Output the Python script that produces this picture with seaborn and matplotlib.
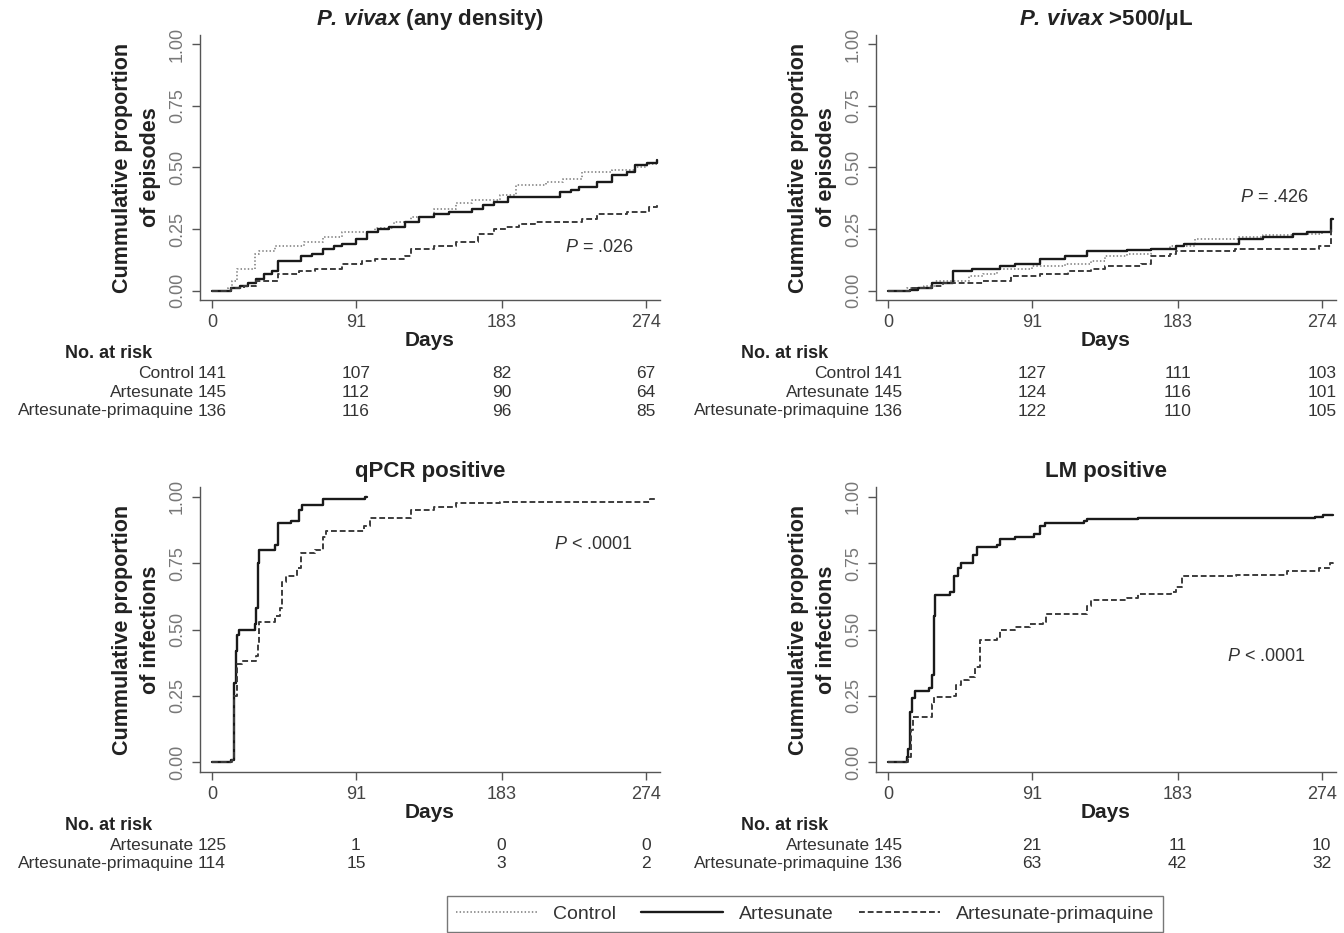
import matplotlib
matplotlib.use("Agg")
import matplotlib.pyplot as plt
import matplotlib.transforms as mtransforms
from matplotlib.lines import Line2D
import seaborn as sns

# ---------------- data ----------------
groups = ["Control", "Artesunate", "Artesunate-primaquine"]
xticks_days = [0, 91, 183, 274]
yticks_vals = [0.0, 0.25, 0.50, 0.75, 1.0]
ytick_labels = ["0.00", "0.25", "0.50", "0.75", "1.00"]

titles = [r"$\mathbfit{P.\,vivax}$ (any density)",
          r"$\mathbfit{P.\,vivax}$ >500/μL",
          "qPCR positive",
          "LM positive"]
ylabels = ["Cummulative proportion\nof episodes",
           "Cummulative proportion\nof episodes",
           "Cummulative proportion\nof infections",
           "Cummulative proportion\nof infections"]
pvalues = [r"$\mathit{P}$ = .026", r"$\mathit{P}$ = .426",
           r"$\mathit{P}$ < .0001", r"$\mathit{P}$ < .0001"]

# Panel 1: P. vivax any density
tl_control_days = [0, 10, 13, 16, 27, 30, 40, 58, 70, 82, 103, 115, 126, 140, 154, 164, 182, 192, 211, 222, 234, 253, 267, 275, 281]
tl_control_vals = [0, 0.01, 0.04, 0.09, 0.15, 0.16, 0.18, 0.20, 0.22, 0.24, 0.255, 0.28, 0.30, 0.33, 0.355, 0.37, 0.39, 0.43, 0.44, 0.455, 0.48, 0.49, 0.50, 0.515, 0.52]
tl_art_days = [0, 12, 18, 23, 28, 33, 38, 42, 56, 63, 70, 77, 82, 91, 98, 105, 112, 122, 131, 140, 150, 164, 171, 178, 187, 220, 227, 232, 243, 253, 262, 267, 275, 281]
tl_art_vals = [0, 0.01, 0.02, 0.03, 0.05, 0.07, 0.08, 0.12, 0.14, 0.15, 0.17, 0.18, 0.19, 0.21, 0.24, 0.25, 0.26, 0.28, 0.30, 0.31, 0.32, 0.33, 0.35, 0.36, 0.38, 0.40, 0.41, 0.42, 0.44, 0.47, 0.48, 0.51, 0.52, 0.53]
tl_ap_days = [0, 12, 20, 28, 42, 55, 65, 82, 95, 103, 122, 126, 140, 154, 168, 178, 186, 194, 204, 234, 243, 262, 276, 281]
tl_ap_vals = [0, 0.01, 0.02, 0.04, 0.07, 0.08, 0.09, 0.11, 0.12, 0.13, 0.14, 0.17, 0.18, 0.20, 0.23, 0.25, 0.26, 0.27, 0.28, 0.29, 0.31, 0.32, 0.34, 0.35]

# Panel 2: P. vivax >500/uL
tr_control_days = [0, 12, 23, 30, 51, 60, 69, 91, 112, 128, 137, 151, 166, 178, 194, 222, 237, 256, 274, 280]
tr_control_vals = [0, 0.01, 0.02, 0.04, 0.06, 0.07, 0.09, 0.10, 0.11, 0.12, 0.14, 0.15, 0.17, 0.18, 0.21, 0.22, 0.225, 0.23, 0.24, 0.25]
tr_art_days = [0, 14, 19, 28, 41, 53, 71, 80, 96, 112, 126, 151, 166, 182, 187, 222, 237, 256, 265, 280, 281]
tr_art_vals = [0, 0.005, 0.01, 0.03, 0.08, 0.09, 0.10, 0.11, 0.13, 0.14, 0.16, 0.165, 0.17, 0.18, 0.19, 0.21, 0.22, 0.23, 0.24, 0.29, 0.29]
tr_ap_days = [0, 14, 28, 35, 60, 78, 96, 114, 128, 137, 160, 166, 178, 182, 219, 272, 280, 281]
tr_ap_vals = [0, 0.01, 0.02, 0.03, 0.04, 0.06, 0.07, 0.08, 0.09, 0.10, 0.11, 0.14, 0.15, 0.16, 0.17, 0.18, 0.25, 0.25]

# Panel 3: qPCR positive
bl_art_days = [0, 12, 14, 15, 16, 17, 27, 28, 29, 30, 40, 42, 50, 55, 57, 70, 97, 98]
bl_art_vals = [0, 0.01, 0.30, 0.42, 0.48, 0.50, 0.52, 0.58, 0.75, 0.80, 0.82, 0.90, 0.91, 0.95, 0.97, 0.99, 1.00, 1.00]
bl_ap_days = [0, 13, 14, 16, 19, 28, 29, 30, 40, 43, 44, 47, 54, 56, 65, 70, 72, 96, 100, 126, 140, 154, 182, 277, 280]
bl_ap_vals = [0, 0.01, 0.25, 0.37, 0.38, 0.40, 0.45, 0.53, 0.55, 0.58, 0.68, 0.70, 0.73, 0.79, 0.80, 0.85, 0.87, 0.89, 0.92, 0.95, 0.96, 0.975, 0.98, 0.99, 0.99]

# Panel 4: LM positive
br_art_days = [0, 12, 13, 14, 15, 17, 26, 28, 29, 30, 39, 42, 44, 46, 54, 56, 69, 71, 80, 92, 96, 99, 124, 126, 158, 270, 275, 281]
br_art_vals = [0, 0.02, 0.05, 0.19, 0.24, 0.27, 0.28, 0.33, 0.55, 0.63, 0.64, 0.70, 0.73, 0.75, 0.78, 0.81, 0.82, 0.84, 0.85, 0.86, 0.89, 0.90, 0.91, 0.915, 0.92, 0.925, 0.93, 0.93]
br_ap_days = [0, 13, 14.6, 16, 28, 29, 42, 43, 46, 51, 55, 58, 69, 71, 80, 90, 98, 100, 124, 126, 128, 151, 158, 179, 182, 186, 220, 252, 272, 279, 281]
br_ap_vals = [0, 0.02, 0.12, 0.17, 0.22, 0.245, 0.25, 0.29, 0.31, 0.32, 0.36, 0.46, 0.47, 0.50, 0.51, 0.52, 0.53, 0.56, 0.56, 0.59, 0.61, 0.62, 0.635, 0.64, 0.66, 0.70, 0.705, 0.72, 0.73, 0.75, 0.76]

# Numbers at risk
tl_risk_control = [141, 107, 82, 67]
tl_risk_art = [145, 112, 90, 64]
tl_risk_ap = [136, 116, 96, 85]
tr_risk_control = [141, 127, 111, 103]
tr_risk_art = [145, 124, 116, 101]
tr_risk_ap = [136, 122, 110, 105]
bl_risk_art = [125, 1, 0, 0]
bl_risk_ap = [114, 15, 3, 2]
br_risk_art = [145, 21, 11, 10]
br_risk_ap = [136, 63, 42, 32]

# ---------------- style ----------------
sns.set_theme(style="ticks")
plt.rcParams["font.family"] = ["Liberation Sans", "DejaVu Sans"]
plt.rcParams["mathtext.fontset"] = "custom"
plt.rcParams["mathtext.rm"] = "Liberation Sans"
plt.rcParams["mathtext.it"] = "Liberation Sans:italic"
plt.rcParams["mathtext.bf"] = "Liberation Sans:bold"
plt.rcParams["mathtext.bfit"] = "Liberation Sans:italic:bold"

styles = {
    "Control": dict(color="#8c8c8c", linewidth=1.3, linestyle=(0, (0.8, 1.2))),
    "Artesunate": dict(color="#1a1a1a", linewidth=1.7, linestyle="-"),
    "Artesunate-primaquine": dict(color="#3c3c3c", linewidth=1.4, linestyle=(0, (3, 1.5))),
}

W, H = 1344, 933
fig = plt.figure(figsize=(W / 100, H / 100), dpi=100)
fig.patch.set_facecolor("white")

rects = [
    (200 / W, 1 - 300 / H, 460 / W, 265 / H),
    (876 / W, 1 - 300 / H, 460 / W, 265 / H),
    (200 / W, 1 - 772 / H, 460 / W, 285 / H),
    (876 / W, 1 - 772 / H, 460 / W, 285 / H),
]

panels = [
    [("Control", tl_control_days, tl_control_vals), ("Artesunate", tl_art_days, tl_art_vals),
     ("Artesunate-primaquine", tl_ap_days, tl_ap_vals)],
    [("Control", tr_control_days, tr_control_vals), ("Artesunate", tr_art_days, tr_art_vals),
     ("Artesunate-primaquine", tr_ap_days, tr_ap_vals)],
    [("Artesunate", bl_art_days, bl_art_vals), ("Artesunate-primaquine", bl_ap_days, bl_ap_vals)],
    [("Artesunate", br_art_days, br_art_vals), ("Artesunate-primaquine", br_ap_days, br_ap_vals)],
]
risks = [
    [("Control", tl_risk_control), ("Artesunate", tl_risk_art), ("Artesunate-primaquine", tl_risk_ap)],
    [("Control", tr_risk_control), ("Artesunate", tr_risk_art), ("Artesunate-primaquine", tr_risk_ap)],
    [("Artesunate", bl_risk_art), ("Artesunate-primaquine", bl_risk_ap)],
    [("Artesunate", br_risk_art), ("Artesunate-primaquine", br_risk_ap)],
]
pv_pos = [(245, 0.174), (244, 0.38), (241, 0.82), (239, 0.40)]
risk_header_y = [354, 354, 826, 826]
risk_row_y0 = [374, 374, 845, 845]
row_step = 18.5

for i, rect in enumerate(rects):
    ax = fig.add_axes(rect)
    for name, d, v in panels[i]:
        sns.lineplot(x=d, y=v, ax=ax, drawstyle="steps-post", estimator=None,
                     sort=False, legend=False, **styles[name])
    ax.set_xlim(-7.5, 283)
    ax.set_ylim(-0.037, 1.037)
    ax.set_xticks(xticks_days)
    ax.set_xticklabels([str(t) for t in xticks_days])
    ax.set_yticks(yticks_vals)
    ax.set_yticklabels(ytick_labels, rotation=90, va="center")
    for s in ["top", "right"]:
        ax.spines[s].set_visible(False)
    for s in ["left", "bottom"]:
        ax.spines[s].set_color("#555555")
        ax.spines[s].set_linewidth(1.0)
    ax.tick_params(axis="x", length=6, width=1, color="#555555", labelsize=13,
                   labelcolor="#444444", pad=4)
    ax.tick_params(axis="y", length=6, width=1, color="#555555", labelsize=13,
                   labelcolor="#777777", pad=4)
    ax.set_xlabel("Days", fontsize=15, fontweight="bold", color="#222222", labelpad=0)
    ax.set_ylabel(ylabels[i], fontsize=15.5, fontweight="bold", color="#222222",
                  linespacing=1.4, labelpad=6)
    ax.set_title(titles[i], fontsize=16, fontweight="bold", color="#222222", pad=7)
    ax.text(pv_pos[i][0], pv_pos[i][1], pvalues[i], fontsize=13, color="#333333",
            ha="center", va="center")

    # number at risk table
    tr = mtransforms.blended_transform_factory(ax.transData, fig.transFigure)
    ax.text(-65, 1 - risk_header_y[i] / H, "No. at risk", transform=tr, fontsize=13,
            fontweight="bold", color="#222222", ha="center", va="center", clip_on=False)
    for r, (name, counts) in enumerate(risks[i]):
        yy = 1 - (risk_row_y0[i] + r * row_step) / H
        ax.text(-11, yy, name, transform=tr, fontsize=12.5, color="#333333",
                ha="right", va="center", clip_on=False)
        for t, c in zip(xticks_days, counts):
            ax.text(t, yy, str(c), transform=tr, fontsize=12.5, color="#333333",
                    ha="center", va="center", clip_on=False)

handles = [Line2D([0], [0], **styles[g]) for g in groups]
leg = fig.legend(handles, groups, loc="center", bbox_to_anchor=(805 / W, 1 - 914 / H),
                 ncol=3, frameon=True, fancybox=False, edgecolor="#555555", fontsize=14,
                 handlelength=4.2, handletextpad=0.8, columnspacing=1.3, borderpad=0.45)
leg.get_frame().set_linewidth(1.0)
for t in leg.get_texts():
    t.set_color("#333333")

fig.savefig("out.png", dpi=100, facecolor="white")
